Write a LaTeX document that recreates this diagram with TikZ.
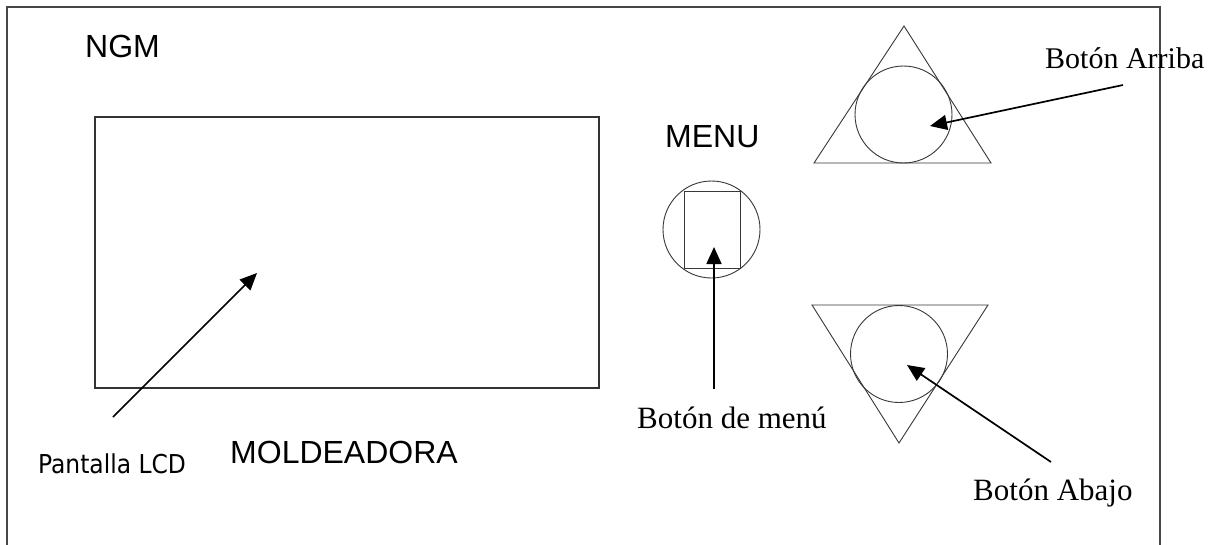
\documentclass[tikz,border=0pt]{standalone}
\usepackage{fontspec}
\setmainfont{Liberation Serif}
\newfontfamily\arialf{Liberation Sans}
\newfontfamily\tahomaf{DejaVu Sans Condensed}
\usetikzlibrary{arrows.meta}
\begin{document}
\begin{tikzpicture}[x=1pt,y=-1pt,
  frame/.style={draw=black!72, line width=1.6pt},
  screen/.style={draw=black!80, line width=1.3pt},
  part/.style={draw=black!78, line width=0.9pt},
  pointer/.style={draw=black, line width=1.7pt, -{Triangle[length=17pt,width=15pt]}},
  sanslbl/.style={font=\arialf\fontsize{32}{36}\selectfont, anchor=base west, inner sep=0pt},
  seriflbl/.style={font=\fontsize{31}{36}\selectfont, anchor=base west, inner sep=0pt},
]
\useasboundingbox (0,0) rectangle (1223,544);
\fill[white] (0,0) rectangle (1223,544);
% outer frame (bottom edge lies below the picture)
\coordinate (fbl) at (7,548);
\coordinate (ftl) at (7,7);
\coordinate (ftr) at (1160,7);
\coordinate (fbr) at (1160,548);
\draw[frame] (fbl) -- (ftl) -- (ftr) -- (fbr);
% LCD screen
\node[screen, rectangle, minimum width=504pt, minimum height=271pt, inner sep=0pt] (lcd) at (347,252.5) {};
% menu button
\node[part, circle, minimum size=97pt, inner sep=0pt] (menubtn) at (711.5,229.5) {};
\node[part, rectangle, minimum width=56pt, minimum height=77pt, inner sep=0pt] (menurect) at (712,229.5) {};
% up button
\coordinate (upl) at (814,163);
\coordinate (upa) at (904,26);
\coordinate (upr) at (991,163);
\draw[part] (upl) -- (upa) -- (upr) -- cycle;
\node[part, circle, minimum size=97pt, inner sep=0pt] (upbtn) at (903.5,114.5) {};
% down button
\coordinate (dnl) at (812,305);
\coordinate (dnr) at (988,305);
\coordinate (dna) at (899,443);
\draw[part] (dnl) -- (dnr) -- (dna) -- cycle;
\node[part, circle, minimum size=97pt, inner sep=0pt] (dnbtn) at (899,354) {};
% texts
\node[sanslbl] (ngm) at (85,57) {NGM};
\node[sanslbl] (menu) at (665,147) {MENU};
\node[sanslbl] (mold) at (230,463) {MOLDEADORA};
\node[font=\tahomaf\fontsize{26}{30}\selectfont, anchor=base west, inner sep=0pt] (lcdlbl) at (38,473) {Pantalla LCD};
\node[seriflbl, font=\fontsize{30}{36}\selectfont] (uplbl) at (1045,68) {Botón Arriba};
\node[seriflbl] (menulbl) at (637,428) {Botón de menú};
\node[seriflbl] (dnlbl) at (973,500) {Botón Abajo};
% pointers
\coordinate (lcdtail) at (113,417);
\coordinate (lcdtip) at (257,273);
\draw[pointer] (lcdtail) -- (lcdtip);
\coordinate (menutail) at (714,389);
\coordinate (menutip) at (714,247);
\draw[pointer] (menutail) -- (menutip);
\coordinate (uptail) at (1123,85);
\coordinate (uptip) at (930,126);
\draw[pointer] (uptail) -- (uptip);
\coordinate (dntail) at (1051,462);
\coordinate (dntip) at (907,365);
\draw[pointer] (dntail) -- (dntip);
\end{tikzpicture}
\end{document}
